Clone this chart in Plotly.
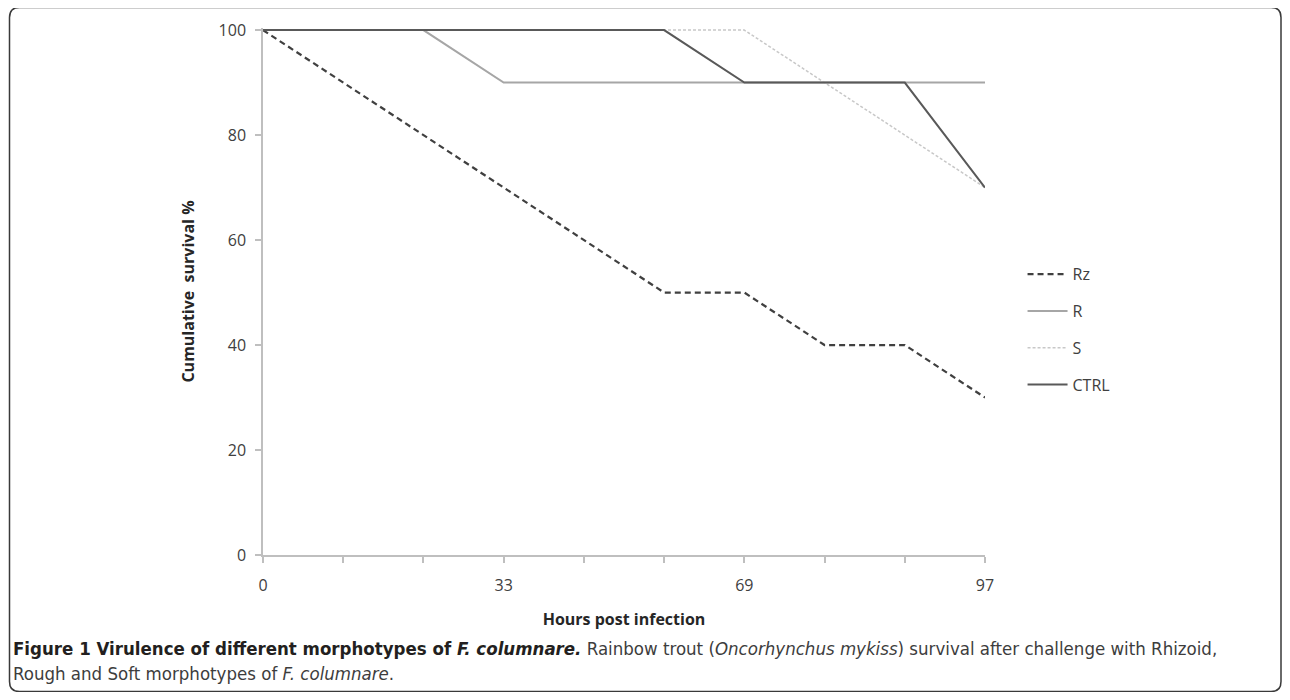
import plotly.graph_objects as go

# ---- data ----
time_points = [0, 1, 2, 3, 4, 5, 6, 7, 8, 9]          # sampling points (category order)
hour_labels = ["0", "", "", "33", "", "", "69", "", "", "97"]
rz = [100, 90, 80, 70, 60, 50, 50, 40, 40, 30]
r = [100, 100, 100, 90, 90, 90, 90, 90, 90, 90]
s = [100, 100, 100, 100, 100, 100, 100, 90, 80, 70]
ctrl = [100, 100, 100, 100, 100, 100, 90, 90, 90, 70]
y_ticks = [0, 20, 40, 60, 80, 100]

series = [
    ("Rz", rz, dict(color="#404040", width=2.2, dash="6px,4px")),
    ("R", r, dict(color="#a6a6a6", width=2)),
    ("S", s, dict(color="#c8c8c8", width=1.5, dash="3px,2px")),
    ("CTRL", ctrl, dict(color="#595959", width=2)),
]

fig = go.Figure()
for i, (name, vals, line) in enumerate(series):
    fig.add_trace(go.Scatter(x=time_points, y=vals, name=name, mode="lines",
                             line=line, legendgroup=f"g{i}"))

chart_font = "Open Sans, Lato, Arial, sans-serif"
axis_col = "#bfbfbf"
FW, FH = 1274, 684   # page has an 8px body margin

fig.update_layout(
    width=FW, height=FH,
    margin=dict(l=255, r=FW - 977, t=20, b=FH - 547),
    paper_bgcolor="white", plot_bgcolor="white",
    font=dict(family=chart_font, size=16, color="#404040"),
    showlegend=True,
    legend=dict(x=1.052, xanchor="left", y=0.565, yanchor="top",
                traceorder="grouped", tracegroupgap=13, itemwidth=40,
                font=dict(size=16, color="#404040"),
                bgcolor="rgba(0,0,0,0)", borderwidth=0),
    xaxis=dict(range=[0, 9], tickvals=time_points, ticktext=hour_labels,
               showline=True, linecolor=axis_col, linewidth=1.5,
               ticks="outside", ticklen=6, tickcolor=axis_col, tickwidth=1.5,
               showgrid=False, zeroline=False, ticklabelstandoff=9,
               tickfont=dict(size=16, color="#404040"),
               title=dict(text="<b>Hours post infection</b>",
                          font=dict(size=16, color="#262626"), standoff=19)),
    yaxis=dict(range=[0, 100.4], tickvals=y_ticks,
               showline=True, linecolor=axis_col, linewidth=1.5,
               ticks="outside", ticklen=6, tickcolor=axis_col, tickwidth=1.5,
               showgrid=False, zeroline=False, ticklabelstandoff=6,
               tickfont=dict(size=16, color="#404040"),
               title=dict(text="<b>Cumulative  survival %</b>",
                          font=dict(size=16, color="#262626"), standoff=20)),
)

# ---- figure frame (rounded box) ----
W, H = 722.0, 525.0
def px(x):   # page x -> paper
    return (x - 263) / W
def py(y):   # page y -> paper
    return (555 - y) / H
rx, ry = 10 / W, 10 / H
x0, x1, y0, y1 = px(9.5), px(1281), py(691), py(9.5)
path = (f"M{x0+rx},{y1} L{x1-rx},{y1} Q{x1},{y1} {x1},{y1-ry} "
        f"L{x1},{y0+ry} Q{x1},{y0} {x1-rx},{y0} "
        f"L{x0+rx},{y0} Q{x0},{y0} {x0},{y0+ry} "
        f"L{x0},{y1-ry} Q{x0},{y1} {x0+rx},{y1} Z")
fig.add_shape(type="path", path=path, xref="paper", yref="paper",
              line=dict(color="#3a3a3a", width=1.5), layer="below")

cap_font = "Liberation Sans Narrow, DejaVu Sans Condensed, Arial Narrow, sans-serif"
fig.add_annotation(
    xref="paper", yref="paper", x=px(11), y=py(648), xanchor="left", yanchor="middle",
    showarrow=False, align="left",
    text=("<b>Figure 1 Virulence of different morphotypes of <i>F. columnare.</i></b> "
          "<span style='color:#3d3d3d'>Rainbow trout (<i>Oncorhynchus mykiss</i>) survival "
          "after challenge with Rhizoid,</span>"),
    font=dict(family=cap_font, size=18.5, color="#231f20"))
fig.add_annotation(
    xref="paper", yref="paper", x=px(11), y=py(673), xanchor="left", yanchor="middle",
    showarrow=False, align="left",
    text="Rough and Soft morphotypes of <i>F. columnare</i>.",
    font=dict(family=cap_font, size=18.5, color="#3d3d3d"))

fig.write_html("out.html")
